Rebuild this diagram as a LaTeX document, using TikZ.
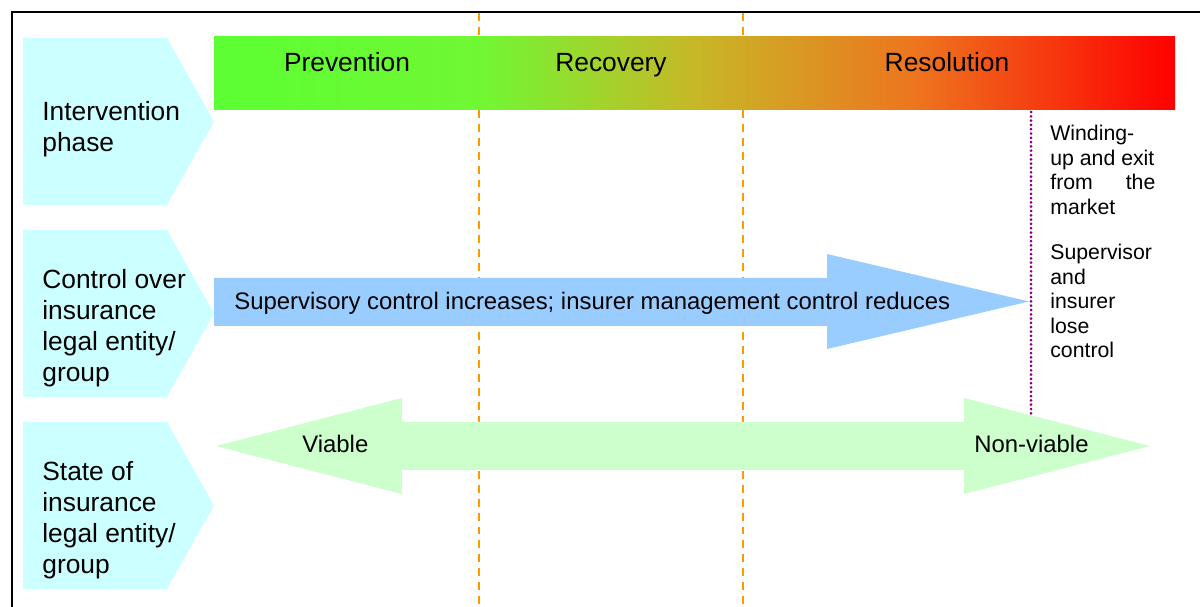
\documentclass[tikz,border=0pt]{standalone}
\usepackage{fontspec}
\setmainfont{Liberation Sans}
\usepackage{tikz}
\usetikzlibrary{calc}
\definecolor{phasecyan}{RGB}{204,255,255}
\definecolor{ctrlblue}{RGB}{153,204,255}
\definecolor{stategreen}{RGB}{204,255,204}
\definecolor{splitorange}{RGB}{255,153,0}
\definecolor{exitpurple}{RGB}{128,0,128}
\pgfdeclarehorizontalshading{phasebar}{100bp}{rgb(0bp)=(0.36,1,0.2); rgb(25bp)=(0.36,1,0.2); rgb(38.8bp)=(0.44,0.97,0.2); rgb(50bp)=(0.78,0.72,0.15); rgb(61.4bp)=(0.93,0.46,0.12); rgb(75bp)=(1,0,0); rgb(100bp)=(1,0,0)}

\begin{document}
\begin{tikzpicture}[x=0.02cm,y=-0.02cm,
    big/.style={inner sep=0pt,font=\fontsize{15}{17.6}\selectfont},
    lbl/.style={big,anchor=north west,align=left},
    bar/.style={inner sep=0pt,font=\fontsize{13.6}{17.6}\selectfont},
    small/.style={inner sep=0pt,anchor=north west,align=left,font=\fontsize{12.1}{13.9}\selectfont},
    split/.style={splitorange,line width=1.1pt,dash pattern=on 4.5pt off 3.4pt},
    exitline/.style={exitpurple,line width=1.7pt,line cap=round,dash pattern=on 0pt off 2.45pt}]
		\useasboundingbox (0,0) rectangle (1200,607);
		\draw[line width=1.1pt] (12,607) -- (12,12) -- (1200,12);
		\draw[split] (479,13) -- (479,607);
		\draw[split] (743,13) -- (743,607);
		\draw[exitline] (1031,112) -- (1031,416);
		\foreach \t in {38,230,422}
		    \fill[phasecyan] (23,\t) -- (167,\t) -- (214,\t+83.5) -- (167,\t+167) -- (23,\t+167) -- cycle;
		\shade[shading=phasebar] (214,37) rectangle (1175,110);
		\fill[ctrlblue] (214,278) -- (827,278) -- (827,254) -- (1029,301.5) -- (827,349) -- (827,326) -- (214,326) -- cycle;
		\fill[stategreen] (216,446) -- (402,398) -- (402,422) -- (964,422) -- (964,398) -- (1150,446)
		    -- (964,494) -- (964,470) -- (402,470) -- (402,494) -- cycle;
		\node[lbl]              (Phase)  at (42,101)  {Intervention\\phase};
		\node[lbl]              (Ctrl)   at (42,269)  {Control over\\insurance\\legal entity/\\group};
		\node[lbl]              (State)  at (42,461)  {State of\\insurance\\legal entity/\\group};
		\node[big,anchor=base]  (Prev)   at (347,72)  {Prevention};
		\node[big,anchor=base]  (Rec)    at (611,72)  {Recovery};
		\node[big,anchor=base]  (Res)    at (947,72)  {Resolution};
		\node[bar,anchor=base west] (Sup)  at (234,310) {Supervisory control increases; insurer management control reduces};
		\node[bar,anchor=base west] (Via)  at (302,453) {Viable};
		\node[bar,anchor=base west] (Non)  at (974,453) {Non-viable};
		\node[small]            (Wind)   at (1050,125) {Winding-\\up and exit\\\makebox[2.1cm][s]{from the}\\market};
		\node[small]            (Lose)   at (1050,244) {Supervisor\\and\\insurer\\lose\\control};
\end{tikzpicture}
\end{document}
